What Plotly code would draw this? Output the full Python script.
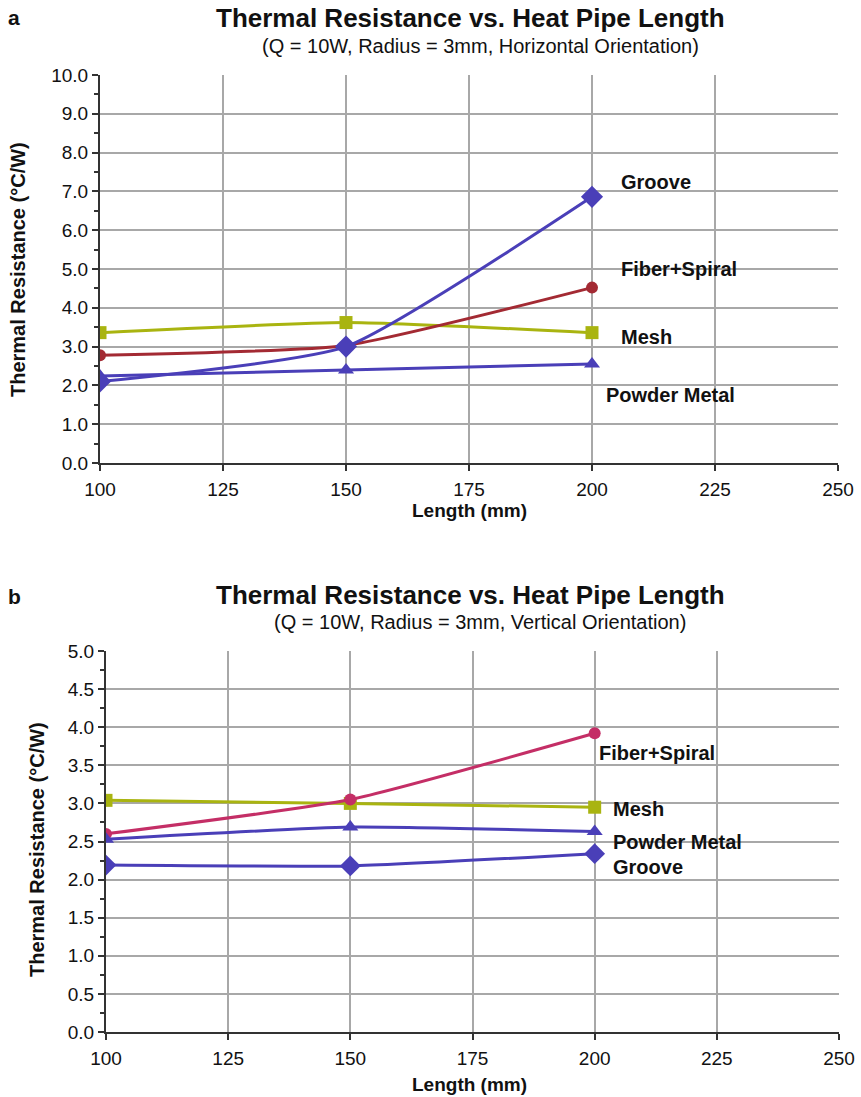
import plotly.graph_objects as go

lengths = [100, 150, 200]

# Panel a: horizontal orientation
a_groove = [2.1, 3.0, 6.86]
a_fiber = [2.78, 3.03, 4.52]
a_mesh = [3.36, 3.62, 3.36]
a_powder = [2.24, 2.4, 2.55]

# Panel b: vertical orientation
b_fiber = [2.6, 3.05, 3.92]
b_mesh = [3.04, 3.0, 2.95]
b_powder = [2.53, 2.69, 2.63]
b_groove = [2.19, 2.18, 2.34]

x_ticks = [100, 125, 150, 175, 200, 225, 250]

title_main = "Thermal Resistance vs. Heat Pipe Length"
sub_a = "(Q = 10W, Radius = 3mm, Horizontal Orientation)"
sub_b = "(Q = 10W, Radius = 3mm, Vertical Orientation)"

FONT = "Liberation Sans, Arial, sans-serif"

fig = go.Figure()

def add(x, y, color, symbol, xa, ya, size=12, width=3):
    fig.add_trace(go.Scatter(
        x=x, y=y, mode="lines+markers", xaxis=xa, yaxis=ya,
        line=dict(color=color, width=width, shape="spline", smoothing=0.5),
        marker=dict(symbol=symbol, size=size, color=color),
        showlegend=False, hoverinfo="skip"))

blue = "#4a3fb8"
red = "#a32a33"
olive = "#a9b410"
pink = "#c42e66"

add(lengths, a_mesh, olive, "square", "x", "y", size=13)
add(lengths, a_fiber, red, "circle", "x", "y", size=12)
add(lengths, a_powder, blue, "triangle-up", "x", "y", size=14)
add(lengths, a_groove, blue, "diamond", "x", "y", size=17)

add(lengths, b_mesh, olive, "square", "x2", "y2", size=13)
add(lengths, b_fiber, pink, "circle", "x2", "y2", size=12)
add(lengths, b_powder, blue, "triangle-up", "x2", "y2", size=14)
add(lengths, b_groove, blue, "diamond", "x2", "y2", size=16)

FW = 861
FH = 1097

def py(v):
    return 1 - v / FH
def px(v):
    return v / FW

grid = "#a8a8a8"
axis_common = dict(
    showgrid=True, gridcolor=grid, gridwidth=2,
    showline=True, linecolor="#333333", linewidth=2,
    ticks="outside", tickcolor="#333333", ticklen=6, tickwidth=1.5,
    tickfont=dict(family=FONT, size=19, color="#111111"),
    zeroline=False, automargin=False, ticklabeloverflow="allow",
)

fig.update_layout(
    width=FW, height=FH, autosize=False,
    margin=dict(l=0, r=0, t=0, b=0, pad=0),
    paper_bgcolor="white", plot_bgcolor="white",
    xaxis=dict(domain=[px(100), px(838)], anchor="y", range=[100, 250],
               tickvals=x_ticks, ticklabelstandoff=2, **axis_common),
    yaxis=dict(domain=[py(463), py(75)], anchor="x", range=[0, 10],
               tickvals=[i for i in range(11)],
               ticktext=[f"{i:.1f}" for i in range(11)],
               minor=dict(ticks="outside", ticklen=4, tickcolor="#333333", dtick=0.5, showgrid=False),
               **axis_common),
    xaxis2=dict(domain=[px(106), px(839)], anchor="y2", range=[100, 250],
                tickvals=x_ticks, ticklabelstandoff=2, **axis_common),
    yaxis2=dict(domain=[py(1032), py(651)], anchor="x2", range=[0, 5],
                tickvals=[i * 0.5 for i in range(11)],
                ticktext=[f"{i*0.5:.1f}" for i in range(11)],
                minor=dict(ticks="outside", ticklen=4, tickcolor="#333333", dtick=0.25, showgrid=False),
                **axis_common),
)

ann = []
def text(x, y, s, size, bold=True, xanchor="center", angle=0):
    ann.append(dict(x=px(x), y=py(y), xref="paper", yref="paper", text=(f"<b>{s}</b>" if bold else s),
                    showarrow=False, xanchor=xanchor, yanchor="middle", textangle=angle,
                    font=dict(family=FONT, size=size, color="#111111")))

text(6, 18, "a", 21, xanchor="left")
text(471, 18, title_main, 26)
text(480, 46, sub_a, 20, bold=False)
text(470, 510, "Length (mm)", 19)
text(18, 270, "Thermal Resistance (°C/W)", 20, angle=-90)
text(619, 182, "Groove", 20, xanchor="left")
text(619, 269, "Fiber+Spiral", 20, xanchor="left")
text(619, 337, "Mesh", 20, xanchor="left")
text(604, 395, "Powder Metal", 20, xanchor="left")

text(6, 596, "b", 21, xanchor="left")
text(471, 595, title_main, 26)
text(480, 622, sub_b, 20, bold=False)
text(470, 1084, "Length (mm)", 19)
text(37, 850, "Thermal Resistance (°C/W)", 20, angle=-90)
text(597, 753, "Fiber+Spiral", 20, xanchor="left")
text(611, 809, "Mesh", 20, xanchor="left")
text(611, 842, "Powder Metal", 20, xanchor="left")
text(611, 867, "Groove", 20, xanchor="left")

fig.update_layout(annotations=ann)
fig.write_html("out.html", config={"displayModeBar": False},
               post_script="document.body.style.margin='0';document.body.style.overflow='hidden';")
